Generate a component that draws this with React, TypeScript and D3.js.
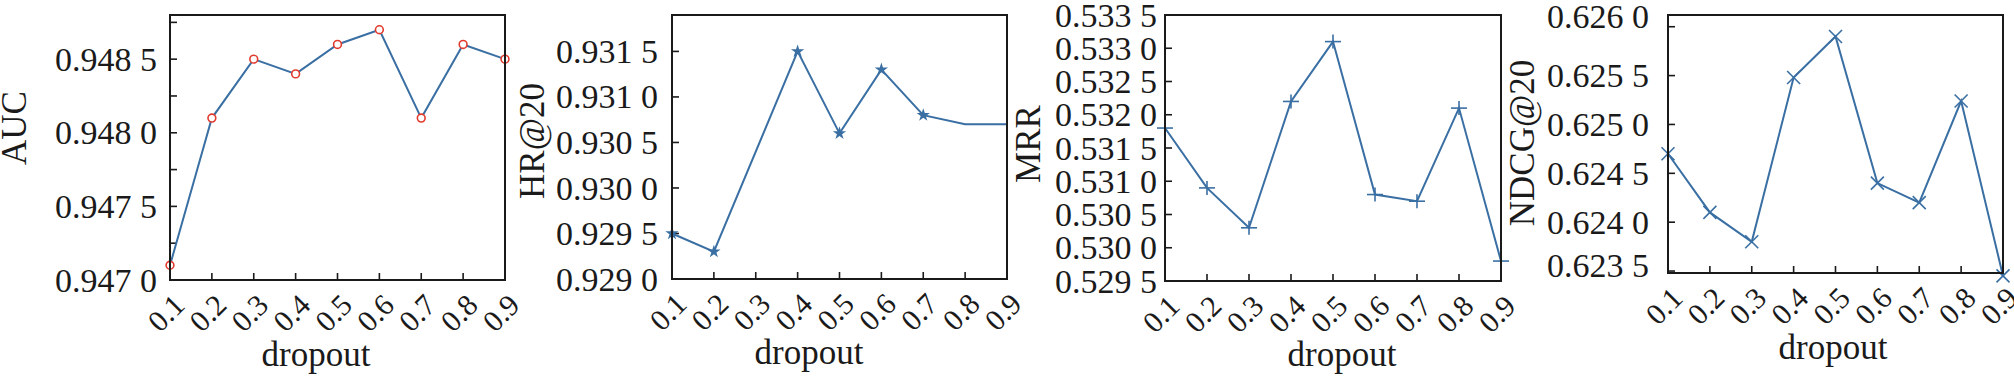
import React, { useEffect } from 'react';
import * as d3 from 'd3';

// dropout values shared by every panel
const dropout = [0.1, 0.2, 0.3, 0.4, 0.5, 0.6, 0.7, 0.8, 0.9];

const aucValues = [0.9471, 0.9481, 0.9485, 0.9484, 0.9486, 0.9487, 0.9481, 0.9486, 0.9485];
const hrValues: (number | null)[] = [0.9295, 0.9293, null, 0.9315, 0.9306, 0.9313, 0.9308, 0.9307, 0.9307];
const hrMarked = [true, true, false, true, true, true, true, false, false];
const mrrValues = [0.5318, 0.5309, 0.5303, 0.5322, 0.5331, 0.5308, 0.5307, 0.5321, 0.5298];
const ndcgValues = [0.6247, 0.6241, 0.6238, 0.62548, 0.6259, 0.6244, 0.6242, 0.62524, 0.62345];

const aucTicks = [0.947, 0.9475, 0.948, 0.9485];
const aucMinor = [0.94725, 0.94775, 0.94825, 0.94875];
const hrTicks = [0.929, 0.9295, 0.93, 0.9305, 0.931, 0.9315];
const mrrTicks = [0.5295, 0.53, 0.5305, 0.531, 0.5315, 0.532, 0.5325, 0.533, 0.5335];
const ndcgTicks = [0.6235, 0.624, 0.6245, 0.625, 0.6255, 0.626];

const LINE = '#3a6fa3';
const RED = '#e23b2e';
const INK = '#1a1a1a';
const FONT = '"Liberation Serif", "Times New Roman", serif';

type Marker = 'circle' | 'star' | 'plus' | 'cross';

interface Panel {
  name: string;
  values: (number | null)[];
  marked?: boolean[];
  marker: Marker;
  domain: [number, number];
  ticks: number[];
  minor?: number[];
  box: { left: number; right: number; top: number; bottom: number };
  labelGap: number;
  ylabelPos: [number, number]; // baseline x, centre y
  xlabelPos: [number, number]; // centre x, baseline y
  topLabelDy?: number;
  bottomLabelDy?: number;
}

const panels: Panel[] = [
  {
    name: 'AUC', values: aucValues, marker: 'circle',
    domain: [0.947, 0.9488], ticks: aucTicks, minor: aucMinor,
    box: { left: 170, right: 505, top: 15, bottom: 280 }, labelGap: 13,
    ylabelPos: [26, 128], xlabelPos: [316, 366],
  },
  {
    name: 'HR@20', values: hrValues, marked: hrMarked, marker: 'star',
    domain: [0.929, 0.9319], ticks: hrTicks,
    box: { left: 672, right: 1007, top: 15, bottom: 279 }, labelGap: 14,
    ylabelPos: [544, 141], xlabelPos: [809, 364],
  },
  {
    name: 'MRR', values: mrrValues, marker: 'plus',
    domain: [0.5295, 0.5335], ticks: mrrTicks,
    box: { left: 1165, right: 1501, top: 15, bottom: 281 }, labelGap: 8,
    ylabelPos: [1040, 144], xlabelPos: [1342, 366],
  },
  {
    name: 'NDCG@20', values: ndcgValues, marker: 'cross',
    domain: [0.62348, 0.62612], ticks: ndcgTicks,
    box: { left: 1668, right: 2003, top: 15, bottom: 273 }, labelGap: 19,
    ylabelPos: [1534, 143], xlabelPos: [1833, 359], topLabelDy: -10, bottomLabelDy: -6,
  },
];

// "0.9485" -> "0.948 5"
const fmt = (v: number) => {
  const s = d3.format('.4f')(v);
  return s.slice(0, -1) + ' ' + s.slice(-1);
};

const starPath = d3.symbol().type(d3.symbolStar).size(55)() as string;

function MarkerShape({ kind, x, y }: { kind: Marker; x: number; y: number }) {
  if (kind === 'circle')
    return <circle cx={x} cy={y} r={3.9} fill="#fff" stroke={RED} strokeWidth={1.6} />;
  if (kind === 'star')
    return <path d={starPath} transform={`translate(${x},${y})`} fill={LINE} />;
  if (kind === 'plus')
    return (
      <g stroke={LINE} strokeWidth={1.6}>
        <line x1={x - 8} x2={x + 8} y1={y} y2={y} />
        <line x1={x} x2={x} y1={y - 7} y2={y + 7} />
      </g>
    );
  return (
    <g stroke={LINE} strokeWidth={1.6}>
      <line x1={x - 6.5} x2={x + 6.5} y1={y - 6.5} y2={y + 6.5} />
      <line x1={x - 6.5} x2={x + 6.5} y1={y + 6.5} y2={y - 6.5} />
    </g>
  );
}

function PanelChart({ p }: { p: Panel }) {
  const { left, right, top, bottom } = p.box;
  const x = d3.scaleLinear().domain([0.1, 0.9]).range([left, right]);
  const y = d3.scaleLinear().domain(p.domain).range([bottom, top]);

  const pts = dropout
    .map((d, i) => ({ d, v: p.values[i], i }))
    .filter(o => o.v !== null) as { d: number; v: number; i: number }[];

  const line = d3.line<{ d: number; v: number }>()
    .x(o => x(o.d))
    .y(o => y(o.v));

  const tickLen = 7;
  const last = p.ticks.length - 1;

  return (
    <g>
      {/* y ticks */}
      {p.ticks.map((t, k) => (
        <g key={'yt' + t}>
          <line x1={left} x2={left + tickLen} y1={y(t)} y2={y(t)} stroke={INK} strokeWidth={1.6} />
          <text
            x={left - p.labelGap}
            y={y(t) + (k === last ? p.topLabelDy || 0 : k === 0 ? p.bottomLabelDy || 0 : 0)}
            dy="0.34em"
            textAnchor="end"
            fontSize={34}
            fill={INK}
          >
            {fmt(t)}
          </text>
        </g>
      ))}
      {(p.minor || []).map(t => (
        <line key={'ym' + t} x1={left} x2={left + tickLen} y1={y(t)} y2={y(t)} stroke={INK} strokeWidth={1.6} />
      ))}
      {/* x ticks */}
      {dropout.map(d => (
        <g key={'xt' + d}>
          <line x1={x(d)} x2={x(d)} y1={bottom} y2={bottom - tickLen} stroke={INK} strokeWidth={1.6} />
          <text
            transform={`translate(${x(d) - 4},${bottom + 33}) rotate(-45)`}
            dy="0.34em"
            textAnchor="middle"
            fontSize={30}
            fill={INK}
          >
            {d.toFixed(1)}
          </text>
        </g>
      ))}
      <path d={line(pts) || ''} fill="none" stroke={LINE} strokeWidth={2} />
      {pts
        .filter(o => !p.marked || p.marked[o.i])
        .map(o => <MarkerShape key={'m' + o.i} kind={p.marker} x={x(o.d)} y={y(o.v)} />)}
      <rect x={left} y={top} width={right - left} height={bottom - top} fill="none" stroke={INK} strokeWidth={2} />
      <text
        transform={`translate(${p.ylabelPos[0]},${p.ylabelPos[1]}) rotate(-90)`}
        textAnchor="middle"
        fontSize={35}
        fill={INK}
      >
        {p.name}
      </text>
      <text x={p.xlabelPos[0]} y={p.xlabelPos[1]} textAnchor="middle" fontSize={35} fill={INK}>
        dropout
      </text>
    </g>
  );
}

export default function App() {
  useEffect(() => {
    document.body.style.margin = '0';
  }, []);
  return (
    <svg width={2014} height={377} style={{ display: 'block', background: '#fff', fontFamily: FONT }}>
      {panels.map(p => <PanelChart key={p.name} p={p} />)}
    </svg>
  );
}
